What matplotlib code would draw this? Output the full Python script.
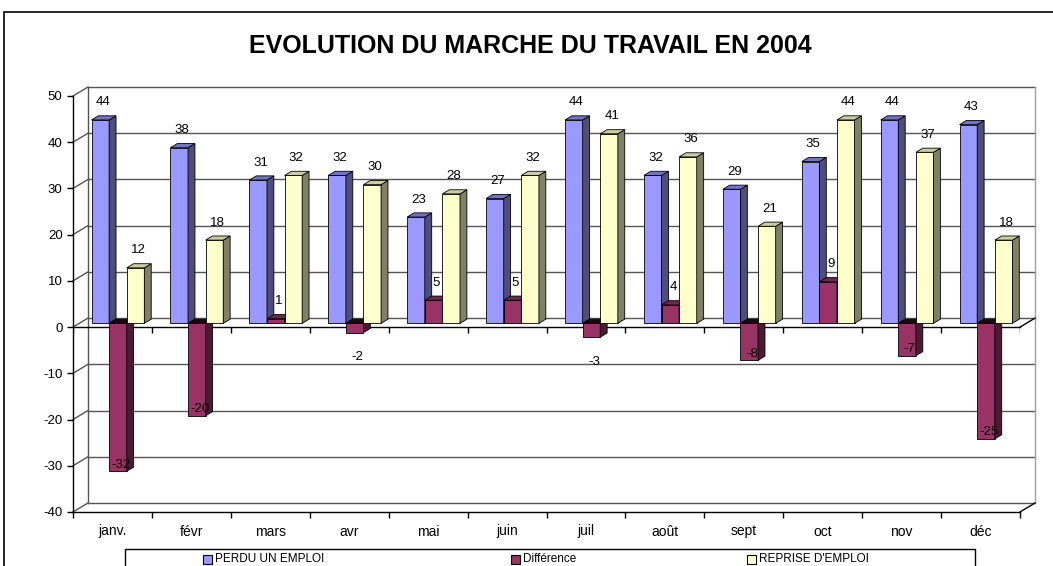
import numpy as np
import matplotlib.pyplot as plt
from matplotlib.patches import Polygon, Rectangle

plt.rcParams['font.family'] = ['Liberation Sans', 'DejaVu Sans']
plt.rcParams['axes.unicode_minus'] = False

months = ['janv.', 'févr', 'mars', 'avr', 'mai', 'juin',
          'juil', 'août', 'sept', 'oct', 'nov', 'déc']
perdu = [44, 38, 31, 32, 23, 27, 44, 32, 29, 35, 44, 43]
reprise = [12, 18, 32, 30, 28, 32, 41, 36, 21, 44, 37, 18]
difference = [-32, -20, 1, -2, 5, 5, -3, 4, -8, 9, -7, -25]
series_names = ['PERDU UN EMPLOI', 'Différence', "REPRISE D'EMPLOI"]

# front / side / top colours for each series
colors = [
    ('#9999FF', '#4D4D80', '#7373C0'),
    ('#993366', '#4D1A33', '#73264D'),
    ('#FFFFCC', '#808066', '#CCCCA3'),
]

DX, DY = 0.19, 1.95      # depth of the 3D box (data units)
Z0, Z1 = 0.42, 0.88      # depth range of bars
START, BW = 0.155, 0.223


def p(x, v, z):
    return (x + z * DX, v + z * DY)


def draw_bar(ax, x0, val, cols):
    x1 = x0 + BW
    lo, hi = min(0, val), max(0, val)
    front, side, top = cols
    kw = dict(edgecolor='black', linewidth=0.6, clip_on=False, zorder=3)
    ax.add_patch(Polygon([p(x0, lo, Z0), p(x1, lo, Z0), p(x1, hi, Z0), p(x0, hi, Z0)],
                         facecolor=front, **kw))
    ax.add_patch(Polygon([p(x1, lo, Z0), p(x1, lo, Z1), p(x1, hi, Z1), p(x1, hi, Z0)],
                         facecolor=side, **kw))
    tcol = top if val >= 0 else '#140A0F'
    ax.add_patch(Polygon([p(x0, hi, Z0), p(x1, hi, Z0), p(x1, hi, Z1), p(x0, hi, Z1)],
                         facecolor=tcol, **kw))


def main() -> None:
    fig = plt.figure(figsize=(10.53, 5.66), dpi=100)
    W, H = 1053, 566
    ax = fig.add_axes([73 / W, 1 - 512 / H, 947 / W, 416 / H])
    ax.set_xlim(0, 12)
    ax.set_ylim(-40, 50)
    ax.patch.set_visible(False)

    # outer chart frame
    fig.patches.append(Rectangle((4 / W, -0.1), 1.1, 1.1 - 12 / H, transform=fig.transFigure,
                                 facecolor='none', edgecolor='black', linewidth=1.2))

    fig.text(530 / W, 1 - 46 / H, 'EVOLUTION DU MARCHE DU TRAVAIL EN 2004',
             ha='center', va='center', fontsize=18, fontweight='bold')

    # back wall & side wall
    grid_vals = np.arange(-40, 51, 10)
    gc = '#555555'
    for v in grid_vals:
        ax.plot([DX, 12 + DX], [v + DY, v + DY], color=gc, lw=1, clip_on=False, zorder=1)
        ax.plot([0, DX], [v, v + DY], color=gc, lw=1, clip_on=False, zorder=1)
    ax.plot([DX, DX], [-40 + DY, 50 + DY], color=gc, lw=1, clip_on=False, zorder=1)
    ax.plot([12 + DX, 12 + DX], [-40 + DY, 50 + DY], color='#A0A0A0', lw=1, clip_on=False, zorder=1)
    for v in (-40, 0):
        ax.plot([12, 12 + DX], [v, v + DY], color='black', lw=1, clip_on=False, zorder=1)
    ax.plot([0, 12], [0, 0], color='black', lw=1, clip_on=False, zorder=2)
    ax.vlines(np.arange(13), -1.3, 0, color='black', lw=1, zorder=2)

    # bars
    for i in range(len(months)):
        for k, vals in enumerate([perdu, difference, reprise]):
            x0 = i + START + k * BW
            val = vals[i]
            draw_bar(ax, x0, val, colors[k])
            xc = x0 + BW / 2 + 0.6 * DX
            if val >= 0:
                ax.text(xc, val + 4.6, str(val), ha='center', va='center', fontsize=9.5, zorder=5)
            elif val <= -5:
                ax.text(xc, val + 2.2, str(val), ha='center', va='center', fontsize=9.5, zorder=5)
            else:
                ax.text(xc, val - 4.5, str(val), ha='center', va='center', fontsize=9.5, zorder=5)

    # axes
    for s in ('top', 'right'):
        ax.spines[s].set_visible(False)
    ax.spines['left'].set_linewidth(1)
    ax.spines['bottom'].set_linewidth(1)
    ax.set_yticks(grid_vals)
    ax.tick_params(axis='y', direction='out', length=4.5, width=1, labelsize=9.5, pad=3)
    ax.set_xticks(np.arange(13))
    ax.set_xticklabels([''] * 13)
    ax.set_xticks(np.arange(12) + 0.5, minor=True)
    ax.set_xticklabels(months, minor=True)
    ax.tick_params(axis='x', which='major', direction='out', length=4.5, width=1)
    ax.tick_params(axis='x', which='minor', length=0, labelsize=10, pad=9)

    # legend
    fig.patches.append(Rectangle((125 / W, -0.1), 850 / W, 0.1 + 1 - 549 / H,
                                 transform=fig.transFigure, facecolor='white',
                                 edgecolor='black', linewidth=1))
    leg_x = [203, 511, 747]
    for k, name in enumerate(series_names):
        fig.patches.append(Rectangle((leg_x[k] / W, 1 - 564 / H), 9 / W, 9 / H,
                                     transform=fig.transFigure, facecolor=colors[k][0],
                                     edgecolor='black', linewidth=0.8))
        fig.text((leg_x[k] + 12) / W, 1 - 559 / H, name, ha='left', va='center', fontsize=8.5)

    fig.savefig('out.png', dpi=100)
    plt.close(fig)


if __name__ == "__main__":
    main()
